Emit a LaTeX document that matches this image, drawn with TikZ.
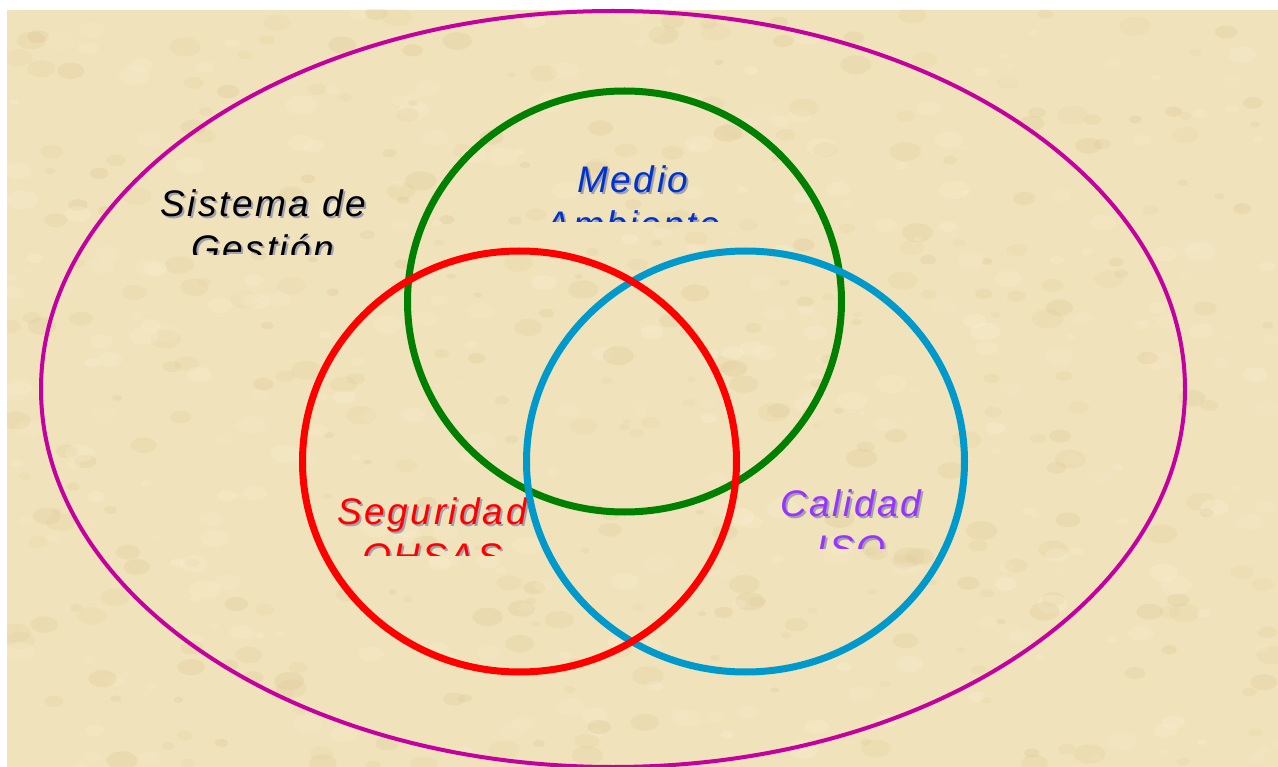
\documentclass[tikz,border=0pt]{standalone}
\usepackage{fontspec}
\setmainfont{Liberation Sans}
\newfontfamily\lblfont[LetterSpace=7]{Liberation Sans}
\definecolor{parch}{RGB}{240,226,186}
\definecolor{parchdark}{RGB}{222,200,150}
\definecolor{parchlight}{RGB}{250,240,212}
\definecolor{ellmag}{RGB}{196,0,160}
\definecolor{cgreen}{RGB}{0,128,0}
\definecolor{cred}{RGB}{255,0,0}
\definecolor{cblue}{RGB}{0,153,204}
\definecolor{tblue}{RGB}{0,51,204}
\definecolor{tpurple}{RGB}{153,51,255}
\definecolor{shadowgray}{RGB}{160,160,175}
\tikzset{
  ring/.style={line width=7pt},
  lbl/.style={font=\lblfont\itshape\fontsize{37}{45}\selectfont, inner sep=0pt, anchor=base},
}
\newcommand{\shlabel}[6]{% name, x, y, color, line1, line2
  \node[lbl, text=shadowgray] at (#2+2,#3+2) {#5};
  \node[lbl, text=shadowgray] at (#2+2,#3+47) {#6};
  \node[lbl, text=#4] (#1a) at (#2,#3) {#5};
  \node[lbl, text=#4] (#1b) at (#2,#3+45) {#6};
}
\begin{document}
\begin{tikzpicture}[x=1pt,y=-1pt]
\useasboundingbox (0,0) rectangle (1278,767);
\fill[white] (0,0) rectangle (1278,767);
\fill[parch] (7,10) rectangle (1278,767);
\begin{scope}
\clip (7,10) rectangle (1278,767);
\pgfmathsetseed{42}
\foreach \i in {1,...,700}{
  \pgfmathsetmacro{\px}{7+rnd*1271}
  \pgfmathsetmacro{\py}{10+rnd*757}
  \pgfmathsetmacro{\rr}{4+rnd*12}
  \pgfmathsetmacro{\op}{0.12+rnd*0.2}
  \ifodd\i
    \fill[parchdark, opacity=\op] (\px,\py) ellipse [x radius=\rr pt, y radius=0.6*\rr pt];
  \else
    \fill[parchlight, opacity=\op] (\px,\py) ellipse [x radius=\rr pt, y radius=0.6*\rr pt];
  \fi
}
\end{scope}
% outer ellipse
\draw[ellmag, line width=4pt] (613,389) ellipse [x radius=572pt, y radius=378pt];
% labels (clipped second lines)
\begin{scope}
\clip (100,150) rectangle (420,255);
\shlabel{sg}{263}{217}{black}{Sistema de}{Gestión}
\end{scope}
\begin{scope}
\clip (520,140) rectangle (760,222);
\shlabel{ma}{633}{193}{tblue}{Medio}{Ambiente}
\end{scope}
\begin{scope}
\clip (300,470) rectangle (560,555);
\shlabel{so}{432}{524}{cred}{Seguridad}{OHSAS}
\end{scope}
\begin{scope}
\clip (740,460) rectangle (960,548);
\shlabel{ci}{851}{516}{tpurple}{Calidad}{ISO}
\end{scope}
% circles: green, blue, red
\draw[ring, cgreen] (624.5,301.5) ellipse [x radius=217pt, y radius=210.5pt];
\draw[ring, cblue] (745.5,461.5) ellipse [x radius=219pt, y radius=210.5pt];
\draw[ring, cred] (519.5,461.5) ellipse [x radius=217pt, y radius=210.5pt];
\end{tikzpicture}
\end{document}
